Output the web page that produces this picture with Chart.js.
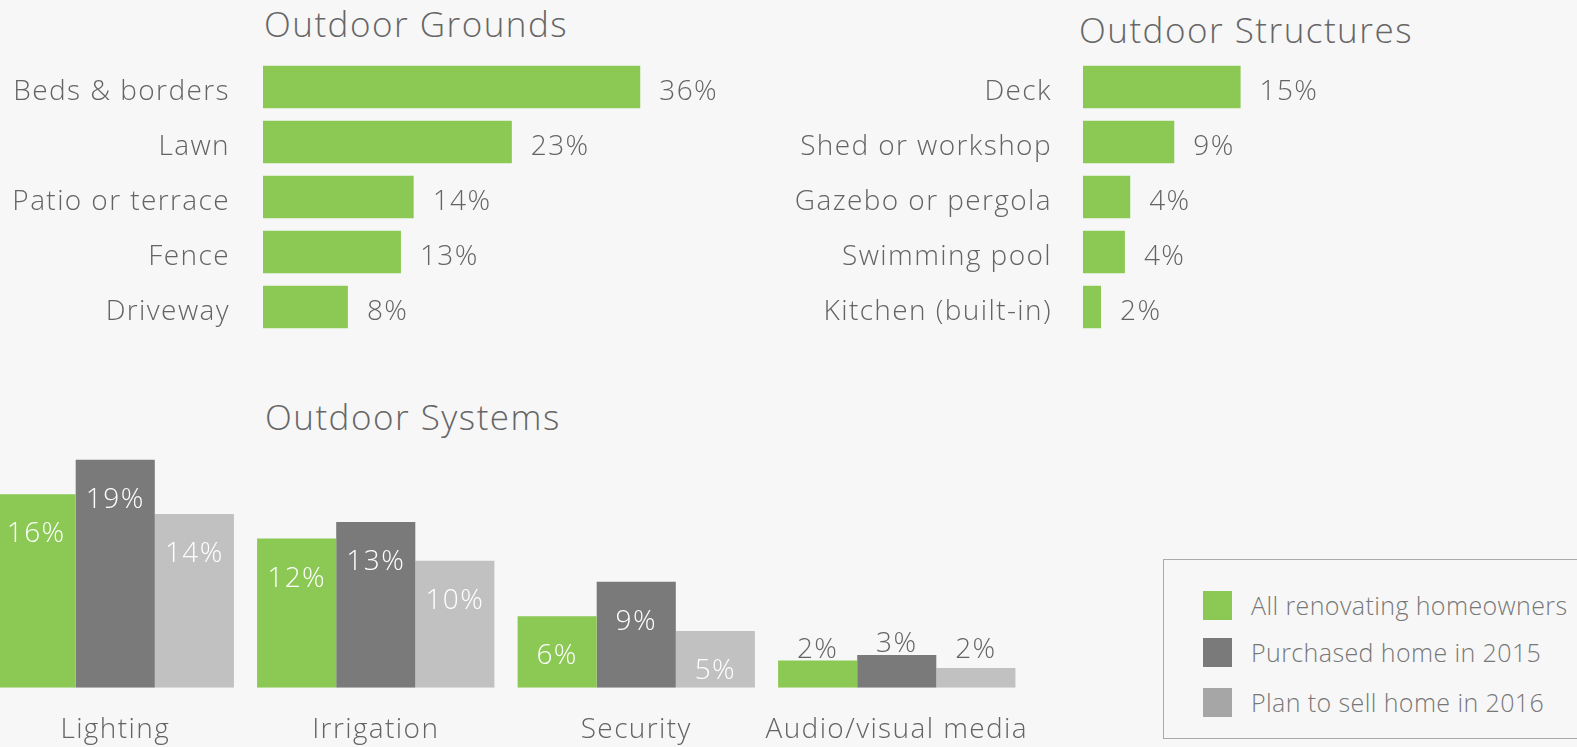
<!DOCTYPE html>
<html>
<head>
<meta charset="utf-8">
<script src="https://cdn.jsdelivr.net/npm/chart.js@4.4.0/dist/chart.umd.min.js"></script>
<style>
html,body{margin:0;padding:0;background:#f7f7f7;}
body{width:1577px;height:747px;overflow:hidden;position:relative;font-family:"Open Sans",Lato,sans-serif;}
canvas{position:absolute;}
.title{position:absolute;font-size:35px;color:#666;font-weight:300;line-height:1;white-space:nowrap;letter-spacing:1.5px;}
#legend{position:absolute;left:1163px;top:559px;width:440px;height:180px;border:1.5px solid #aaa;box-sizing:border-box;}
.sw{position:absolute;width:29px;height:29px;}
.lt{position:absolute;font-size:25px;line-height:29px;color:#777;font-weight:300;white-space:nowrap;letter-spacing:0.4px;}
</style>
</head>
<body>
<div class="title" style="left:264px;top:6px;">Outdoor Grounds</div>
<div class="title" style="left:1079px;top:12px;">Outdoor Structures</div>
<div class="title" style="left:265px;top:399px;">Outdoor Systems</div>

<canvas id="grounds" width="740" height="360" style="left:0;top:0;width:740px;height:360px;"></canvas>
<canvas id="structures" width="817" height="360" style="left:760px;top:0;width:817px;height:360px;"></canvas>
<canvas id="systems" width="1042" height="347" style="left:-15px;top:400px;width:1042px;height:347px;"></canvas>

<div id="legend"></div>

<script>
// ---- Data ----
const groundsCategories = ['Beds & borders', 'Lawn', 'Patio or terrace', 'Fence', 'Driveway'];
const groundsValues = [35.55, 23.45, 14.2, 13.0, 8.0];

const structuresCategories = ['Deck', 'Shed or workshop', 'Gazebo or pergola', 'Swimming pool', 'Kitchen (built-in)'];
const structuresValues = [14.85, 8.6, 4.45, 3.95, 1.7];

const systemsCategories = ['Lighting', 'Irrigation', 'Security', 'Audio/visual media'];
const seriesNames = ['All renovating homeowners', 'Purchased home in 2015', 'Plan to sell home in 2016'];
const allRenovating = [15.7, 12.1, 5.8, 2.2];
const purchased2015 = [18.5, 13.45, 8.6, 2.65];
const planToSell2016 = [14.1, 10.3, 4.6, 1.6];

// ---- Styles ----
const GREEN = '#8bc954';
const DARK = '#7a7a7a';
const LIGHT = '#c1c1c1';
const LEGEND_LIGHT = '#a6a6a6';
const TEXT = '#646464';
const FONT_FAMILY = '"Open Sans", Lato, sans-serif';
const FONT_SIZE = 28;
const SPACING = '1.4px';
const CLEAR = 'rgba(0,0,0,0)';

const pct = v => Math.round(v) + '%';

const spacingPlugin = {
  id: 'spacing',
  beforeDraw(chart) { chart.ctx.letterSpacing = SPACING; }
};

const hbarLabels = {
  id: 'hbarLabels',
  afterDatasetsDraw(chart) {
    const ctx = chart.ctx;
    ctx.save();
    ctx.letterSpacing = SPACING;
    ctx.font = `300 ${FONT_SIZE}px ${FONT_FAMILY}`;
    ctx.fillStyle = TEXT;
    ctx.textAlign = 'left';
    ctx.textBaseline = 'middle';
    const meta = chart.getDatasetMeta(0);
    meta.data.forEach((bar, i) => {
      ctx.fillText(pct(chart.data.datasets[0].data[i]), bar.x + 19, bar.y + 5);
    });
    ctx.restore();
  }
};

function makeHBar(id, cats, vals, axisWidth, gap, xMax) {
  new Chart(document.getElementById(id), {
    type: 'bar',
    data: {
      labels: cats,
      datasets: [{ data: vals, backgroundColor: GREEN, borderWidth: 0,
        barPercentage: 0.775, categoryPercentage: 1 }]
    },
    options: {
      indexAxis: 'y',
      responsive: false,
      animation: false,
      events: [],
      layout: { padding: { top: 59.5, bottom: 25.5, left: 0, right: 0 } },
      plugins: { legend: { display: false }, tooltip: { enabled: false }, title: { display: false } },
      scales: {
        x: { display: false, min: 0, max: xMax },
        y: {
          grid: { display: true, drawOnChartArea: false, drawTicks: true, tickLength: gap, color: CLEAR },
          border: { display: false },
          ticks: { color: TEXT, padding: 0, labelOffset: 5,
            font: { family: FONT_FAMILY, size: FONT_SIZE, weight: 300 } },
          afterFit(scale) { scale.width = axisWidth; }
        }
      }
    },
    plugins: [spacingPlugin, hbarLabels]
  });
}

makeHBar('grounds', groundsCategories, groundsValues, 263, 33, 44.95);
makeHBar('structures', structuresCategories, structuresValues, 323, 31, 46.55);

const vbarLabels = {
  id: 'vbarLabels',
  afterDatasetsDraw(chart) {
    const ctx = chart.ctx;
    const base = chart.scales.y.getPixelForValue(0);
    ctx.save();
    ctx.letterSpacing = SPACING;
    ctx.font = `300 ${FONT_SIZE}px ${FONT_FAMILY}`;
    ctx.textAlign = 'center';
    ctx.textBaseline = 'middle';
    chart.data.datasets.forEach((ds, di) => {
      chart.getDatasetMeta(di).data.forEach((bar, i) => {
        const v = ds.data[i];
        if (v >= 4) {
          ctx.fillStyle = '#ffffff';
          ctx.fillText(pct(v), bar.x, bar.y + 40);
        } else {
          ctx.fillStyle = TEXT;
          ctx.fillText(pct(v), bar.x, Math.min(bar.y, base - 27) - 11);
        }
      });
    });
    ctx.restore();
  }
};

new Chart(document.getElementById('systems'), {
  type: 'bar',
  data: {
    labels: systemsCategories,
    datasets: [
      { label: seriesNames[0], data: allRenovating, backgroundColor: GREEN },
      { label: seriesNames[1], data: purchased2015, backgroundColor: DARK },
      { label: seriesNames[2], data: planToSell2016, backgroundColor: LIGHT }
    ]
  },
  options: {
    responsive: false,
    animation: false,
    events: [],
    datasets: { bar: { barPercentage: 1, categoryPercentage: 0.911, borderWidth: 0 } },
    layout: { padding: 0 },
    plugins: { legend: { display: false }, tooltip: { enabled: false }, title: { display: false } },
    scales: {
      y: { display: false, min: 0, max: 23.35 },
      x: {
        grid: { display: true, drawOnChartArea: false, drawTicks: true, tickLength: 26, color: CLEAR },
        border: { display: false },
        ticks: { color: TEXT, padding: 0, maxRotation: 0, autoSkip: false,
          font: { family: FONT_FAMILY, size: FONT_SIZE, weight: 300 } },
        afterFit(scale) { scale.height = 59.3; }
      }
    }
  },
  plugins: [spacingPlugin, vbarLabels]
});

// ---- Legend (HTML) ----
const legendColors = [GREEN, DARK, LEGEND_LIGHT];
const legendTops = [31, 78, 128];
const legend = document.getElementById('legend');
seriesNames.forEach((name, i) => {
  const sw = document.createElement('div');
  sw.className = 'sw';
  sw.style.left = '39px';
  sw.style.top = legendTops[i] + 'px';
  sw.style.background = legendColors[i];
  legend.appendChild(sw);
  const t = document.createElement('div');
  t.className = 'lt';
  t.style.left = '87px';
  t.style.top = legendTops[i] + 'px';
  t.textContent = name;
  legend.appendChild(t);
});
</script>
</body>
</html>
